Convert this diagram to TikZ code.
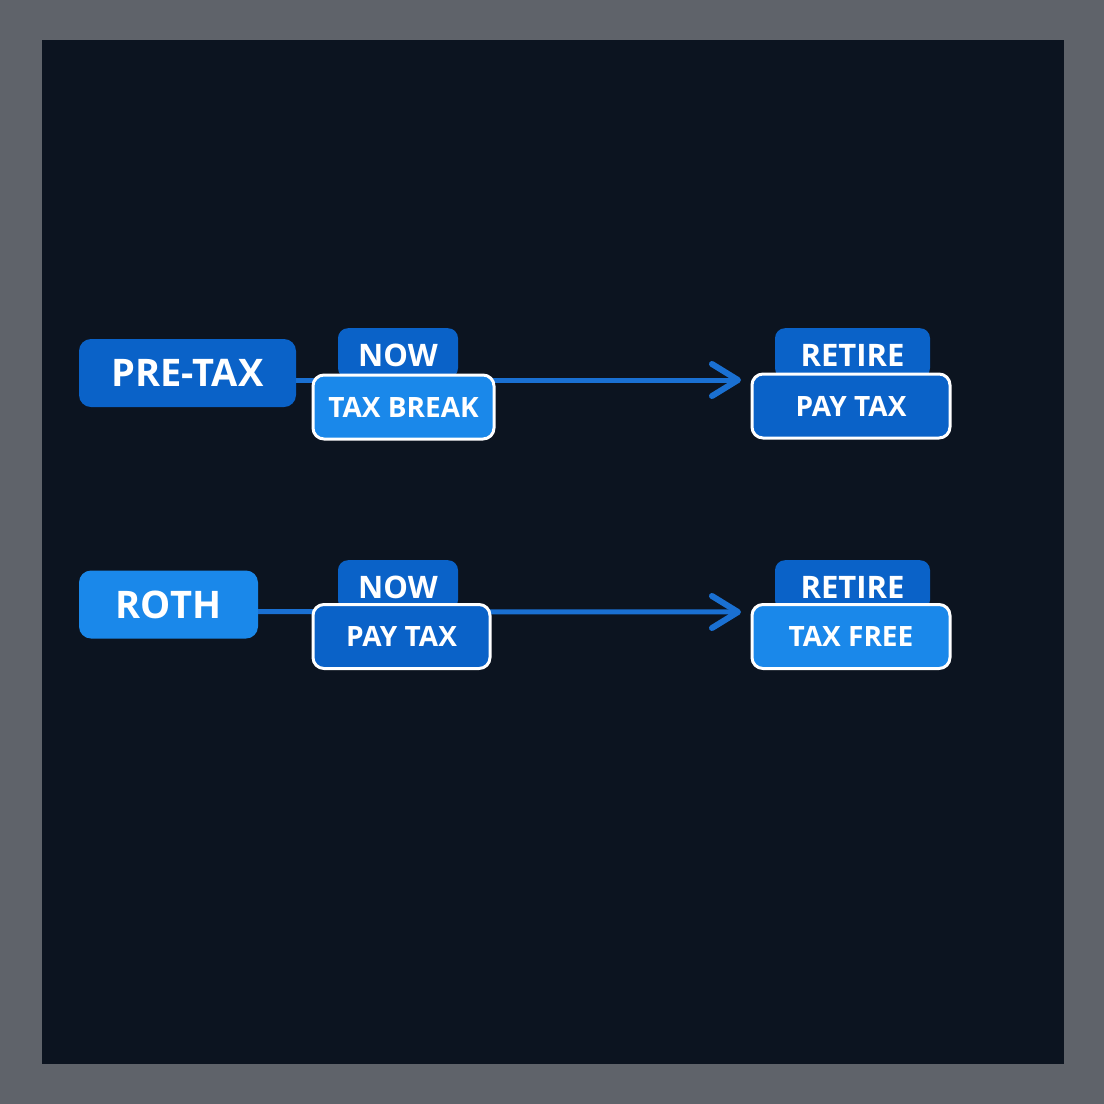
\documentclass[tikz,border=0pt]{standalone}
\usepackage{fontspec}
\setmainfont{Open Sans}
\usetikzlibrary{arrows.meta}
\definecolor{bgout}{HTML}{5F636A}
\definecolor{bgin}{HTML}{0C1420}
\definecolor{dblue}{HTML}{0A62C8}
\definecolor{lblue}{HTML}{1A88EA}
\definecolor{lineb}{HTML}{1A70D2}
\begin{document}
\begin{tikzpicture}[x=1pt,y=-1pt,
  box/.style={rounded corners=12pt,text=white,font=\bfseries\fontsize{#1}{#1}\selectfont,inner sep=0pt},
  main/.style={box=38,minimum height=68pt},
  tab/.style={box=31,fill=dblue,minimum width=120pt,minimum height=50pt,rounded corners=10pt,text depth=0pt,anchor=north},
  val/.style={box=28,draw=white,line width=3pt,minimum height=64pt,rounded corners=11pt},
  flow/.style={draw=lineb,line width=5pt},
  tip/.style={draw=lineb,line width=6pt,line cap=round,line join=round}]
\useasboundingbox (0,0) rectangle (1104,1104);
\fill[bgout] (0,0) rectangle (1104,1104);
\fill[bgin] (42,40) rectangle (1064,1064);
% row 1
\node[main,fill=dblue,minimum width=217pt] (pre) at (187.5,373) {PRE-TAX};
\coordinate (a1) at (738,380);
\draw[flow] (pre.east) ++(0,7) -- (a1);
\node[tab] (now1) at (398,328) {\raisebox{-4pt}{NOW}};
\node[tab,minimum width=155pt] (ret1) at (852.5,328) {\raisebox{-4pt}{RETIRE}};
\node[val,fill=lblue,minimum width=181pt] (tb) at (403.5,407) {TAX BREAK};
\node[val,fill=dblue,minimum width=198pt] (pt1) at (851,406) {PAY TAX};
\draw[tip] (712,364) -- (a1) -- (712,396);
% row 2
\node[main,fill=lblue,minimum width=179pt] (roth) at (168.5,604.5) {ROTH};
\coordinate (a2) at (738,612);
\draw[flow] (roth.east) ++(0,7) -- (a2);
\node[tab] (now2) at (398,560) {\raisebox{-4pt}{NOW}};
\node[tab,minimum width=155pt] (ret2) at (852.5,560) {\raisebox{-4pt}{RETIRE}};
\node[val,fill=dblue,minimum width=177pt] (pt2) at (401.5,636.5) {PAY TAX};
\node[val,fill=lblue,minimum width=198pt] (tf) at (851,636.5) {TAX FREE};
\draw[tip] (712,596) -- (a2) -- (712,628);
\end{tikzpicture}
\end{document}
